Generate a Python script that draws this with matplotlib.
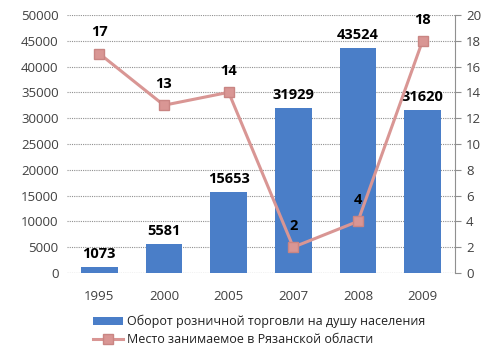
import numpy as np
import matplotlib
matplotlib.use("Agg")
import matplotlib.pyplot as plt

plt.rcParams['font.family'] = ['Open Sans', 'DejaVu Sans']

YEARS = ["1995", "2000", "2005", "2007", "2008", "2009"]
TURNOVER = [1073, 5581, 15653, 31929, 43524, 31620]
PLACE = [17, 13, 14, 2, 4, 18]

BAR_LABEL = "Оборот розничной торговли на душу населения"
LINE_LABEL = "Место занимаемое в Рязанской области"

BAR_COLOR = "#4A7EC8"
LINE_COLOR = "#D99694"
MARKER_EDGE = "#C98583"

fig = plt.figure(figsize=(4.98, 3.55), dpi=100)
ax = fig.add_axes([0.1345, 0.231, 0.779, 0.727])
ax2 = ax.twinx()

x = np.arange(len(YEARS))
bars = ax.bar(x, TURNOVER, width=0.57, color=BAR_COLOR, zorder=2, label=BAR_LABEL)
ax.set_ylim(0, 50000)
ax.set_yticks(range(0, 50001, 5000))
ax.set_xlim(-0.5, len(YEARS) - 0.5)
ax.set_xticks(x)
ax.set_xticklabels(YEARS)
ax.yaxis.grid(True, color="#909090", linestyle=(0, (1, 1)), linewidth=0.8, zorder=0)
ax.set_axisbelow(True)

for xi, v in zip(x, TURNOVER):
    ax.text(xi, v + 1200, str(v), ha="center", va="bottom", fontsize=10.5,
            fontweight="bold", color="black")

line, = ax2.plot(x, PLACE, color=LINE_COLOR, linewidth=2.2, marker="s", markersize=7.5,
                 markerfacecolor=LINE_COLOR, markeredgecolor=MARKER_EDGE, label=LINE_LABEL,
                 zorder=3)
ax2.set_ylim(0, 20)
ax2.set_yticks(range(0, 21, 2))
for xi, v in zip(x, PLACE):
    ax2.text(xi, v + 1.1, str(v), ha="center", va="bottom", fontsize=10.5,
             fontweight="bold", color="black")

for a in (ax, ax2):
    for s in ("top", "left", "bottom", "right"):
        a.spines[s].set_visible(False)
ax2.spines["right"].set_visible(True)
ax2.spines["right"].set_color("#909090")
ax2.spines["right"].set_linestyle((0, (1, 1)))
ax.tick_params(axis="y", length=0, labelsize=9.5, colors="#404040", pad=6)
ax.tick_params(axis="x", length=0, labelsize=9.5, colors="#404040", pad=12)
ax2.tick_params(axis="y", length=4, color="#909090", labelsize=9.5, labelcolor="#404040", pad=4)
ax.axhline(0, color="#909090", linestyle=(0, (1, 1)), linewidth=0.8, zorder=1)

fig.legend([bars, line], [BAR_LABEL, LINE_LABEL], loc="upper left",
           bbox_to_anchor=(0.175, 0.13), frameon=False, fontsize=9,
           handlelength=2.4, handletextpad=0.3, labelspacing=0.4, borderpad=0,
           labelcolor="#202020")

fig.savefig("out.png", dpi=100)
